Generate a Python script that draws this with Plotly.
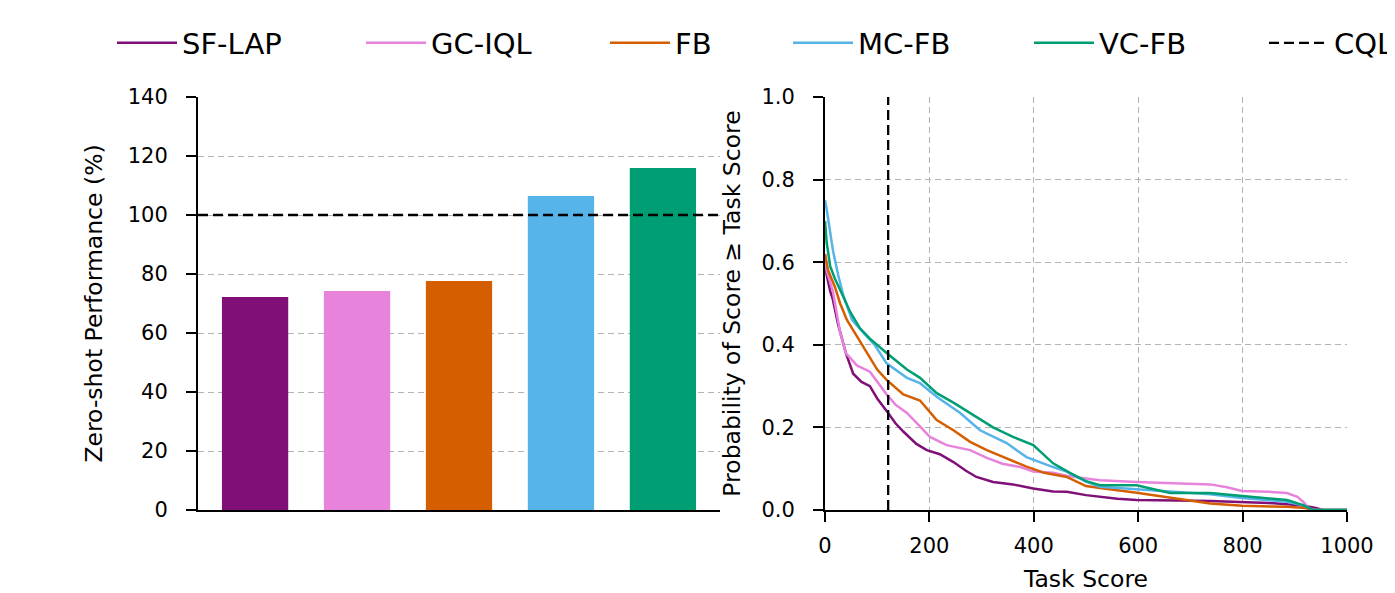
import plotly.graph_objects as go

methods = ["SF-LAP", "GC-IQL", "FB", "MC-FB", "VC-FB"]
colors = ["#801078", "#E883DC", "#D55E00", "#56B4E9", "#009E73"]
zero_shot_perf = [72.2, 74.2, 77.6, 106.4, 115.9]
cql_norm = 100
cql_score = 121

sflap_s = [0, 3, 10, 15, 25, 32, 40, 54, 70, 86, 100, 118, 135, 150, 175, 195, 220, 246, 270, 290, 322, 360, 399, 437, 463, 500, 527, 560, 597, 640, 674, 738, 799, 850, 885, 920, 940, 954, 1000]
sflap_p = [0.60, 0.57, 0.53, 0.51, 0.45, 0.42, 0.38, 0.33, 0.31, 0.30, 0.27, 0.24, 0.21, 0.19, 0.16, 0.145, 0.135, 0.116, 0.095, 0.08, 0.068, 0.062, 0.052, 0.045, 0.044, 0.036, 0.032, 0.027, 0.024, 0.024, 0.023, 0.022, 0.02, 0.017, 0.014, 0.01, 0.005, 0.0, 0.0]

gciql_s = [0, 3, 15, 23, 29, 40, 61, 86, 100, 118, 135, 157, 180, 201, 233, 278, 310, 340, 374, 399, 437, 463, 500, 527, 597, 661, 738, 770, 799, 850, 885, 905, 916, 930, 1000]
gciql_p = [0.62, 0.58, 0.53, 0.47, 0.43, 0.38, 0.35, 0.335, 0.31, 0.28, 0.255, 0.235, 0.205, 0.177, 0.157, 0.145, 0.126, 0.112, 0.104, 0.093, 0.09, 0.083, 0.076, 0.072, 0.068, 0.065, 0.062, 0.055, 0.046, 0.044, 0.041, 0.032, 0.02, 0.0, 0.0]

fb_s = [0, 6, 19, 29, 42, 54, 70, 86, 100, 118, 150, 182, 214, 246, 278, 310, 341, 386, 420, 463, 500, 527, 597, 661, 700, 738, 799, 885, 920, 935, 1000]
fb_p = [0.62, 0.58, 0.54, 0.50, 0.46, 0.435, 0.40, 0.37, 0.34, 0.315, 0.28, 0.265, 0.218, 0.193, 0.165, 0.145, 0.129, 0.105, 0.09, 0.08, 0.058, 0.053, 0.042, 0.03, 0.022, 0.016, 0.01, 0.008, 0.005, 0.0, 0.0]

mcfb_s = [0, 3, 15, 25, 35, 52, 73, 95, 118, 157, 182, 214, 259, 297, 348, 386, 437, 463, 501, 527, 597, 661, 738, 799, 885, 920, 935, 1000]
mcfb_p = [0.75, 0.73, 0.63, 0.57, 0.52, 0.46, 0.43, 0.40, 0.355, 0.32, 0.307, 0.274, 0.235, 0.193, 0.162, 0.128, 0.104, 0.093, 0.068, 0.056, 0.05, 0.045, 0.038, 0.029, 0.02, 0.01, 0.0, 0.0]

vcfb_s = [0, 3, 10, 19, 32, 48, 67, 86, 118, 157, 182, 214, 246, 278, 322, 360, 399, 437, 469, 500, 527, 597, 661, 738, 799, 885, 916, 935, 1000]
vcfb_p = [0.70, 0.65, 0.59, 0.56, 0.525, 0.48, 0.44, 0.415, 0.38, 0.34, 0.32, 0.283, 0.26, 0.235, 0.20, 0.177, 0.157, 0.113, 0.09, 0.07, 0.06, 0.06, 0.041, 0.041, 0.034, 0.024, 0.012, 0.0, 0.0]

curves = [(sflap_s, sflap_p), (gciql_s, gciql_p), (fb_s, fb_p), (mcfb_s, mcfb_p), (vcfb_s, vcfb_p)]

FONT = "DejaVu Sans"
OFF = 8                      # page body margin
W, H = 1395 - OFF, 593 - OFF


def fx(px):
    return (px - OFF) / W


def fy(py):
    return 1 - (py - OFF) / H


legend_left_px = [112, 361, 605, 788, 1029, 1264]

fig = go.Figure()

fig.add_trace(go.Bar(x=methods, y=zero_shot_perf, marker=dict(color=colors, line=dict(width=0)),
                     width=0.65, showlegend=False, xaxis="x", yaxis="y"))

for i, (name, col, (s, p)) in enumerate(zip(methods, colors, curves)):
    fig.add_trace(go.Scatter(x=s, y=p, mode="lines", name=name,
                             line=dict(color=col, width=2.5),
                             legend="legend" if i == 0 else f"legend{i + 1}",
                             xaxis="x2", yaxis="y2"))

fig.add_trace(go.Scatter(x=[cql_score, cql_score], y=[0, 1], mode="lines", name="CQL",
                         line=dict(color="black", width=2.3, dash="10px,5px"),
                         legend="legend6", xaxis="x2", yaxis="y2"))

fig.add_shape(type="line", xref="x domain", yref="y", x0=0, x1=1, y0=cql_norm, y1=cql_norm,
              line=dict(color="black", width=2.3, dash="10px,5px"))

ydom = [fy(510), fy(97)]
grid = dict(showgrid=True, gridcolor="#b3b3b3", gridwidth=1, griddash="6px,4px")
axline = dict(showline=True, linecolor="black", linewidth=2, ticks="outside", ticklen=10,
              tickwidth=2, tickcolor="black", tickfont=dict(size=21, color="black"),
              automargin=False)

legends = {}
for i, x0 in enumerate(legend_left_px):
    key = "legend" if i == 0 else f"legend{i + 1}"
    legends[key] = dict(orientation="h", x=fx(x0), xanchor="left", y=fy(43), yanchor="middle",
                        font=dict(size=29, color="black"), itemwidth=60, bgcolor="rgba(0,0,0,0)")

fig.update_layout(
    width=W, height=H,
    margin=dict(l=0, r=0, t=0, b=0, autoexpand=False),
    paper_bgcolor="white", plot_bgcolor="white",
    font=dict(family=FONT, color="black", size=21),
    xaxis=dict(domain=[fx(198), fx(720)], range=[-0.56, 4.56], showticklabels=False,
               showline=True, linecolor="black", linewidth=2, ticks="", showgrid=False,
               zeroline=False, anchor="y", automargin=False),
    yaxis=dict(domain=ydom, range=[0, 140], dtick=20, zeroline=False, ticklabelstandoff=14,
               title=dict(text="Zero-shot Performance (%)", font=dict(size=23.5), standoff=18),
               anchor="x", **grid, **axline),
    xaxis2=dict(domain=[fx(825), fx(1347)], range=[0, 1000], dtick=200, zeroline=False,
                ticklabelstandoff=6,
                title=dict(text="Task Score", font=dict(size=23.5), standoff=19),
                anchor="y2", **grid, **axline),
    yaxis2=dict(domain=ydom, range=[0, 1], dtick=0.2, tickformat=".1f", zeroline=False,
                ticklabelstandoff=14,
                title=dict(text="Probability of Score ≥ Task Score", font=dict(size=23.5), standoff=14),
                anchor="x2", **grid, **axline),
    **legends,
)

fig.write_html("out.html")
